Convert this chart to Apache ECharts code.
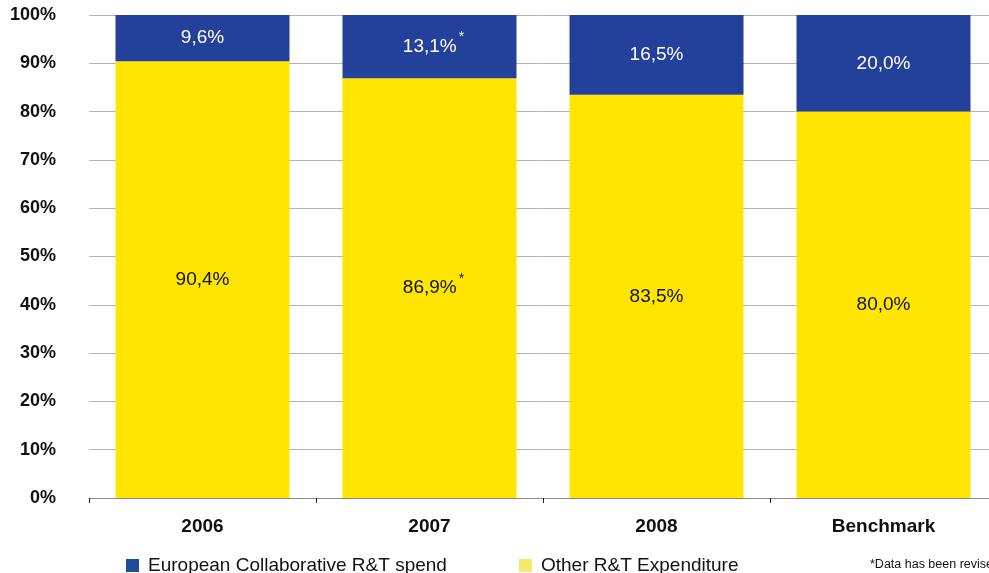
<!DOCTYPE html>
<html>
<head>
<meta charset="utf-8">
<script src="https://cdn.jsdelivr.net/npm/echarts@6/dist/echarts.min.js"></script>
<style>
  html, body { margin: 0; padding: 0; background: #fff; }
  #chart { width: 989px; height: 573px; }
</style>
</head>
<body>
<div id="chart"></div>
<script>
// data
var categories = ['2006', '2007', '2008', 'Benchmark'];
var european = [9.6, 13.1, 16.5, 20.0];
var other = [90.4, 86.9, 83.5, 80.0];
var revised = [false, true, false, false];   // marked with *
var yTicks = [0, 10, 20, 30, 40, 50, 60, 70, 80, 90, 100];

var FONT = '"Liberation Sans", Arial, Helvetica, sans-serif';
var BLUE = '#23409a';
var YELLOW = '#ffe500';

function fmt(v) {
  return v.toFixed(1).replace('.', ',') + '%';
}

// build series items, revised ones get an asterisk
function items(values) {
  return values.map(function (v, i) {
    var it = { value: v };
    if (revised[i]) {
      it.label = { formatter: fmt(v) + '{sup|*}', offset: [4, 0] };
    }
    return it;
  });
}

function barLabel(color) {
  return {
    show: true,
    position: 'inside',
    color: color,
    fontFamily: FONT,
    fontSize: 19,
    formatter: function (p) { return fmt(p.value); },
    rich: {
      sup: { fontSize: 14, color: color, fontFamily: FONT, verticalAlign: 'top', padding: [0, 0, 18, 2] }
    }
  };
}

var chart = echarts.init(document.getElementById('chart'));

var legendText = { fontFamily: FONT, fontSize: 19, color: '#111', padding: [0, 0, 0, 4] };

var option = {
  backgroundColor: '#fff',
  animation: false,
  grid: { left: 89, right: -8, top: 15, bottom: 75, outerBoundsMode: 'none' },
  legend: [{
    left: 121, top: 551,
    icon: 'rect',
    itemWidth: 13, itemHeight: 13,
    textStyle: legendText,
    data: [{ name: 'European Collaborative R&T spend', itemStyle: { color: '#1f4e99' } }]
  }, {
    left: 514, top: 551,
    icon: 'rect',
    itemWidth: 13, itemHeight: 13,
    textStyle: legendText,
    data: [{ name: 'Other R&T Expenditure', itemStyle: { color: '#f5e86a' } }]
  }],
  xAxis: {
    type: 'category',
    data: categories,
    axisLine: { lineStyle: { color: '#8a8a8a', width: 1 } },
    axisTick: { show: true, length: 5, lineStyle: { color: '#222' } },
    axisLabel: { margin: 19, fontFamily: FONT, fontSize: 19, fontWeight: 'bold', color: '#111' },
    splitLine: { show: false }
  },
  yAxis: {
    type: 'value',
    min: yTicks[0],
    max: yTicks[yTicks.length - 1],
    interval: 10,
    axisLine: { show: false },
    axisTick: { show: false },
    axisLabel: {
      margin: 33, fontFamily: FONT, fontSize: 18, fontWeight: 'bold', color: '#111',
      formatter: '{value}%'
    },
    splitLine: { lineStyle: { color: '#b4b4b4', width: 1 } }
  },
  series: [{
    name: 'Other R&T Expenditure',
    type: 'bar',
    stack: 'total',
    barWidth: 174,
    itemStyle: { color: YELLOW },
    label: barLabel('#111'),
    data: items(other)
  }, {
    name: 'European Collaborative R&T spend',
    type: 'bar',
    stack: 'total',
    barWidth: 174,
    itemStyle: { color: BLUE },
    label: barLabel('#fff'),
    data: items(european)
  }],
  graphic: [{
    type: 'text',
    left: 870, top: 558,
    style: { text: '*Data has been revised', font: '12.5px ' + FONT, fill: '#111' }
  }]
};

chart.setOption(option);
</script>
</body>
</html>
